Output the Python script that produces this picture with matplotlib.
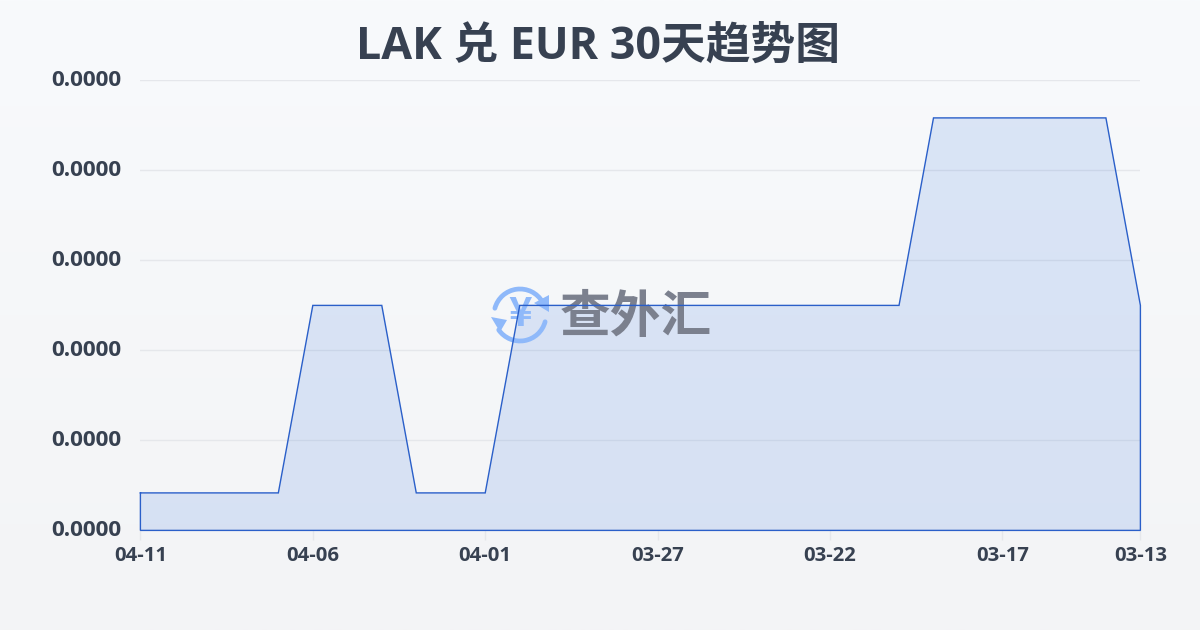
import matplotlib
matplotlib.use('Agg')
import matplotlib.pyplot as plt
from matplotlib.patches import Arc, Polygon
from matplotlib.transforms import ScaledTranslation
import numpy as np

plt.rcParams['font.family'] = ['Open Sans', 'Noto Sans CJK SC', 'DejaVu Sans']

# newest day first, as on the axis
dates = ['04-11', '04-10', '04-09', '04-08', '04-07', '04-06', '04-05', '04-04', '04-03', '04-02',
         '04-01', '03-31', '03-30', '03-29', '03-28', '03-27', '03-26', '03-25', '03-24', '03-23',
         '03-22', '03-21', '03-20', '03-19', '03-18', '03-17', '03-16', '03-15', '03-14', '03-13']
rates = [0.00004, 0.00004, 0.00004, 0.00004, 0.00004, 0.00005, 0.00005, 0.00005, 0.00004, 0.00004,
         0.00004, 0.00005, 0.00005, 0.00005, 0.00005, 0.00005, 0.00005, 0.00005, 0.00005, 0.00005,
         0.00005, 0.00005, 0.00005, 0.00006, 0.00006, 0.00006, 0.00006, 0.00006, 0.00006, 0.00005]
x_tick_labels = ['04-11', '04-06', '04-01', '03-27', '03-22', '03-17', '03-13']
y_ticks = [0.000038, 0.0000428, 0.0000476, 0.0000524, 0.0000572, 0.000062]
y_tick_labels = ['0.0000'] * 6

W, H = 1200, 630
LINE = '#2a5fc9'
TEXT = '#374151'
ICON = '#8fb9fa'

fig = plt.figure(figsize=(W / 100, H / 100), dpi=100)

# background gradient
bg = fig.add_axes([0, 0, 1, 1], zorder=0)
bg.imshow(np.linspace(0, 1, 256).reshape(-1, 1),
          cmap=matplotlib.colors.LinearSegmentedColormap.from_list('bg', ['#f8fafc', '#f3f4f6']),
          aspect='auto', extent=[0, W, H, 0])
bg.set_xlim(0, W)
bg.set_ylim(H, 0)
bg.axis('off')

# chart area, 140..1140 by 80..530 px
ax = fig.add_axes([140.4 / W, 1 - 530.4 / H, 1000 / W, 450 / H], zorder=1)
ax.patch.set_alpha(0)

x = np.arange(len(dates))
ax.fill_between(x, rates, y_ticks[0], facecolor='#1a61db', alpha=0.13, lw=0, zorder=2)
ax.plot(np.r_[x, x[-1], x[0], x[0]], np.r_[rates, y_ticks[0], y_ticks[0], rates[0]],
        color=LINE, lw=1, solid_joinstyle='miter', zorder=4, clip_on=False)

# watermark between the fill and the line, coordinates here are pixels
# bg's y axis is flipped, so Arc angles run clockwise on screen
px = bg.transData
cx, cy = 520, 315
wm = dict(color=ICON, transform=px, zorder=3, clip_on=False)
ax.add_patch(Arc((cx, cy), 52, 52, theta1=195, theta2=330, lw=3.4, capstyle='round', **wm))
ax.add_patch(Arc((cx, cy), 52, 52, theta1=15, theta2=145, lw=3.4, capstyle='round', **wm))
ax.add_patch(Polygon([[534, 303], [549, 295], [549, 312]], closed=True, lw=0, **wm))
ax.add_patch(Polygon([[491, 317], [507, 320], [500, 332]], closed=True, lw=0, **wm))
ax.text(cx, cy - 1, '¥', fontsize=29, fontweight='bold', ha='center', va='center',
        family=['Noto Sans CJK SC'], **wm)
ax.text(636, 319, '查外汇', fontsize=36.5, fontweight='bold', color='#7b808e', ha='center', va='center',
        transform=px, zorder=3, clip_on=False)

ax.set_xlim(0, len(dates) - 1)
ax.set_ylim(y_ticks[0], y_ticks[-1])
ax.set_xticks([dates.index(d) for d in x_tick_labels])
ax.set_xticklabels(x_tick_labels, fontsize=14.6, fontweight='bold', color=TEXT)
ax.set_yticks(y_ticks)
ax.set_yticklabels(y_tick_labels, fontsize=16.2, fontweight='bold', color=TEXT)
ax.tick_params(axis='x', length=7, width=1, color='#e5e7eb', pad=4)
ax.tick_params(axis='y', length=0, pad=13.5)
# y labels sit a little above their grid lines
shift_up = ScaledTranslation(0, 2 / 100, fig.dpi_scale_trans)
for lab in ax.get_yticklabels():
    lab.set_transform(lab.get_transform() + shift_up)
ax.grid(True, axis='y', color='#e5e7eb', lw=1, zorder=1)
ax.set_axisbelow(True)
for spine in ax.spines.values():
    spine.set_visible(False)

fig.text(598 / W, 1 - 47 / H, 'LAK 兑 EUR 30天趋势图', fontsize=32.2, fontweight='bold', color=TEXT,
         ha='center', va='center', zorder=5)

fig.savefig('out.png', dpi=100)
plt.close(fig)
